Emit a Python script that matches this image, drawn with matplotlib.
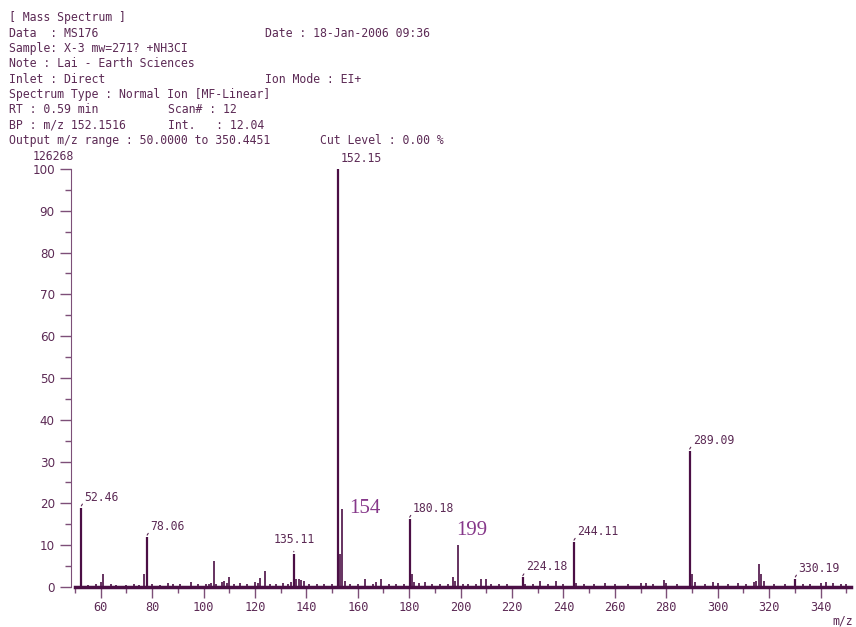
import matplotlib.pyplot as plt
from matplotlib.ticker import MultipleLocator

# header lines of the instrument printout
header_left = ["[ Mass Spectrum ]", "Data  : MS176", "Sample: X-3 mw=271? +NH3CI",
               "Note : Lai - Earth Sciences", "Inlet : Direct",
               "Spectrum Type : Normal Ion [MF-Linear]", "RT : 0.59 min",
               "BP : m/z 152.1516", "Output m/z range : 50.0000 to 350.4451"]
header_mid = {1: "Date : 18-Jan-2006 09:36", 4: "Ion Mode : EI+"}
header_col2 = {6: "Scan# : 12", 7: "Int.   : 12.04"}
header_col3 = {8: "Cut Level : 0.00 %"}

# labelled peaks (m/z, relative intensity %)
main_mz = [52.46, 78.06, 135.11, 152.15, 180.18, 224.18, 244.11, 289.09, 330.19]
main_int = [19.0, 12.0, 8.0, 100.0, 16.3, 2.3, 10.8, 32.6, 2.0]

# other peaks
minor_mz = [55, 58, 60, 61, 64, 66, 70, 73, 75, 77, 80, 83, 86, 88, 91, 95, 98,
            101, 102, 103, 104, 105, 107, 108, 109, 110, 112, 114, 117, 120, 121,
            122, 124, 126, 128, 131, 133, 134, 136, 137, 138, 139, 141, 144, 147,
            150, 153, 154, 155, 157, 160, 163, 166, 167, 169, 172, 175, 178, 181,
            182, 184, 186, 189, 192, 195, 197, 198, 199, 201, 203, 206, 208, 210,
            212, 215, 218, 225, 228, 231, 234, 237, 240, 245, 248, 252, 256, 260,
            265, 270, 272, 275, 279, 280, 284, 290, 291, 295, 298, 300, 304, 308,
            311, 314, 315, 316, 317, 318, 322, 326, 333, 336, 340, 342, 345, 348, 350]
minor_int = [0.5, 0.6, 1.2, 3.0, 0.6, 0.5, 0.5, 0.6, 0.5, 3.2, 0.6, 0.5, 1.0, 0.6,
             0.6, 1.2, 0.6, 0.8, 0.6, 1.0, 6.2, 0.8, 1.2, 1.4, 1.0, 2.5, 0.7, 0.9,
             0.7, 1.2, 1.0, 2.2, 3.8, 0.6, 0.7, 0.9, 0.7, 1.2, 2.0, 1.8, 1.6, 1.5,
             0.6, 0.7, 0.6, 0.6, 8.0, 18.7, 1.5, 0.6, 0.6, 2.0, 0.8, 1.3, 2.0, 0.7,
             0.6, 0.7, 3.0, 1.2, 0.9, 1.2, 0.8, 0.7, 0.8, 2.5, 1.5, 10.0, 0.8, 0.6,
             0.7, 2.0, 2.0, 0.8, 0.7, 0.7, 0.8, 0.6, 1.5, 0.7, 1.5, 0.7, 1.0, 0.7,
             0.8, 0.9, 0.7, 0.8, 1.0, 1.0, 0.8, 1.6, 1.0, 0.7, 3.0, 1.2, 0.8, 1.2,
             0.9, 0.8, 1.0, 0.8, 1.2, 1.5, 5.5, 3.0, 1.5, 0.8, 0.8, 0.8, 0.7, 1.0,
             1.2, 0.9, 0.8, 0.7]

# hand-written annotations
big_labels = ["154", "199"]
big_pos = [(156.6, 16.6), (198.2, 11.3)]

line_c = '#4b0f45'
text_c = '#5c2a55'
axis_c = '#7d4f78'
mono = 'DejaVu Sans Mono'

fig = plt.figure(figsize=(8.56, 6.27), dpi=100)
ax = fig.add_axes([0.0876, 0.0638, 0.907, 0.6667])

ax.vlines(minor_mz, 0, minor_int, color=line_c, lw=1.2)
ax.vlines(main_mz, 0, main_int, color=line_c, lw=1.6)

for mz, h in zip(main_mz, main_int):
    if mz == 135.11:
        ax.annotate(f"{mz:.2f}", (mz, h), xytext=(0, 8), textcoords='offset pixels',
                    ha='center', va='bottom', color=text_c, fontsize=8.3, family=mono)
        ax.annotate("", (mz, h + 0.4), xytext=(mz, h + 1.2),
                    arrowprops=dict(arrowstyle='-', color=text_c, lw=0.8))
    else:
        ax.annotate(f"{mz:.2f}", (mz, h), xytext=(3, 4), textcoords='offset pixels',
                    ha='left', va='bottom', color=text_c, fontsize=8.3, family=mono)
        ax.annotate("", (mz, h + 0.4), xytext=(mz + 1.0, h + 1.4),
                    arrowprops=dict(arrowstyle='-', color=text_c, lw=0.8))

for lab, (x, y) in zip(big_labels, big_pos):
    ax.text(x, y, lab, color='#86388a', fontsize=15, family='Liberation Serif',
            va='bottom', ha='left')

ax.set_xlim(50, 352)
ax.set_ylim(0, 100)
ax.xaxis.set_minor_locator(MultipleLocator(10))
ax.yaxis.set_major_locator(MultipleLocator(10))
ax.yaxis.set_minor_locator(MultipleLocator(5))
ax.set_xticks(range(60, 341, 20))
ax.tick_params(axis='both', which='major', length=8, width=1, color=axis_c,
               labelcolor=text_c, labelsize=8.6)
ax.tick_params(axis='x', which='major', pad=2)
ax.tick_params(axis='both', which='minor', length=4, width=1, color=axis_c)
for t in ax.get_xticklabels() + ax.get_yticklabels():
    t.set_family(mono)

ax.spines['top'].set_visible(False)
ax.spines['right'].set_visible(False)
ax.spines['left'].set_position(('outward', 3))
ax.spines['left'].set_color(axis_c)
ax.spines['bottom'].set_color(line_c)
ax.spines['bottom'].set_linewidth(2.5)

fig.text(0.0385, 0.740, "126268", color=text_c, fontsize=8.3, family=mono, va='bottom')
fig.text(0.972, 0.0, "m/z", color=text_c, fontsize=8.3, family=mono, va='bottom')

for i, line in enumerate(header_left):
    y = 1 - (18 + i * 15.3) / 627
    fig.text(9 / 856, y, line, color=text_c, fontsize=8.3, family=mono, va='center')
    if i in header_mid:
        fig.text(265 / 856, y, header_mid[i], color=text_c, fontsize=8.3, family=mono, va='center')
    if i in header_col2:
        fig.text(168 / 856, y, header_col2[i], color=text_c, fontsize=8.3, family=mono, va='center')
    if i in header_col3:
        fig.text(320 / 856, y, header_col3[i], color=text_c, fontsize=8.3, family=mono, va='center')

fig.savefig("out.png", dpi=100)
